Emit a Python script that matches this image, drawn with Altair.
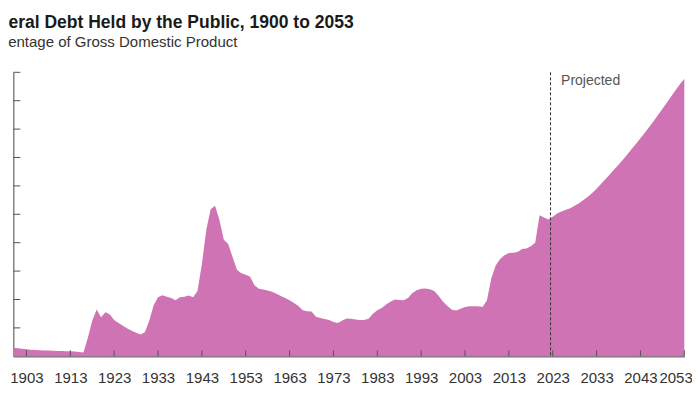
import altair as alt
import pandas as pd

# ---- data (percent of GDP) ----
years = list(range(1900, 2054))
debt = [
    6.1, 5.7, 5.3, 4.9, 4.7, 4.4, 4.3, 4.1, 4.0, 3.9,          # 1900-1909
    3.8, 3.7, 3.5, 3.5, 3.3, 3.0, 2.7, 13.0, 25.0, 33.0,        # 1910-1919
    27.5, 31.0, 29.5, 25.5, 23.5, 21.5, 19.5, 18.0, 16.5, 15.3, # 1920-1929
    17.0, 25.0, 36.0, 41.5, 43.0, 42.0, 41.0, 39.5, 41.5, 42.0, # 1930-1939
    42.8, 41.5, 46.0, 65.0, 89.0, 103.5, 106.0, 96.0, 82.0, 79.0, # 1940-1949
    70.0, 61.0, 58.5, 57.5, 56.0, 50.0, 47.5, 47.0, 46.3, 45.5, # 1950-1959
    44.0, 42.5, 41.0, 39.5, 37.5, 35.5, 32.5, 31.8, 31.5, 27.8, # 1960-1969
    27.0, 26.3, 25.5, 24.2, 23.5, 25.2, 26.7, 26.5, 26.0, 25.5, # 1970-1979
    25.5, 26.5, 30.0, 32.5, 34.0, 36.5, 38.5, 40.0, 39.7, 39.5, # 1980-1989
    41.0, 44.5, 46.5, 47.5, 47.7, 47.3, 46.0, 42.5, 38.5, 35.5, # 1990-1999
    32.8, 32.3, 33.5, 34.8, 35.3, 35.3, 35.2, 34.8, 39.5, 55.0, # 2000-2009
    64.0, 68.5, 71.2, 72.8, 73.0, 73.5, 75.5, 75.9, 77.5, 80.0, # 2010-2019
    99.4, 97.8, 96.4, 98.2, 100.5, 102.0, 103.2, 104.3, 106.0, 107.7, # 2020-2029
    110.0, 112.3, 115.0, 118.0, 121.3, 124.6, 128.0, 131.5, 134.9, 138.5, # 2030-2039
    142.2, 146.0, 149.7, 153.5, 157.4, 161.5, 165.6, 169.9, 174.2, 178.6, # 2040-2049
    183.0, 187.3, 191.5, 195.5,                                  # 2050-2053
]
tick_years = list(range(1903, 2054, 10))
y_ticks = list(range(20, 201, 20))
projection_start = [2022.5]
title_text = ["Federal Debt Held by the Public, 1900 to 2053"]
subtitle_text = ["Percentage of Gross Domestic Product"]
projected_label = ["Projected"]

df = pd.DataFrame({"year": years, "debt": debt})
xt = pd.DataFrame({"year": tick_years})
yt = pd.DataFrame({"v": y_ticks})
proj = pd.DataFrame({"year": projection_start, "label": projected_label})
ttl = pd.DataFrame({"t": title_text})
sub = pd.DataFrame({"t": subtitle_text})

W, H = 671, 284
FONT = "Liberation Sans, Arial, sans-serif"

xscale = alt.Scale(domain=[1900, 2053], nice=False, zero=False)
yscale = alt.Scale(domain=[0, 200], nice=False)

area = alt.Chart(df).mark_area(color="#CF73B4", opacity=1).encode(
    x=alt.X("year:Q", scale=xscale,
            axis=alt.Axis(values=tick_years, format="d", title=None, grid=False,
                          ticks=False, domainColor="#777777", domainWidth=1.5,
                          labelFont=FONT, labelFontSize=15, labelColor="#333333",
                          labelPadding=14, labelFlush=True, labelFlushOffset=8,
                          labelOverlap=False)),
    y=alt.Y("debt:Q", scale=yscale,
            axis=alt.Axis(title=None, grid=False, ticks=False, labels=False,
                          domainColor="#666666", domainWidth=1.2)),
)

xticks = alt.Chart(xt).mark_rule(color="#555555", strokeWidth=1).encode(
    x=alt.X("year:Q", scale=xscale),
    y=alt.value(H), y2=alt.value(H - 6),
)

yticks = alt.Chart(yt).mark_rule(color="#555555", strokeWidth=1).encode(
    y=alt.Y("v:Q", scale=yscale),
    x=alt.value(0), x2=alt.value(7),
)

vline = alt.Chart(proj).mark_rule(color="#333333", strokeWidth=1, strokeDash=[3, 2]).encode(
    x=alt.X("year:Q", scale=xscale),
    y=alt.value(0), y2=alt.value(H),
)

ptext = alt.Chart(proj).mark_text(align="left", baseline="alphabetic", dx=10.5,
                                  font=FONT, fontSize=14, color="#555555").encode(
    x=alt.X("year:Q", scale=xscale),
    y=alt.value(13),
    text="label:N",
)

title = alt.Chart(ttl).mark_text(align="left", baseline="alphabetic", font=FONT,
                                 fontSize=17.5, fontWeight="bold", color="#1a1a1a").encode(
    x=alt.value(-36), y=alt.value(-44), text="t:N")

subtitle = alt.Chart(sub).mark_text(align="left", baseline="alphabetic", font=FONT,
                                    fontSize=15, color="#333333").encode(
    x=alt.value(-36), y=alt.value(-25.6), text="t:N")

chart = alt.layer(area, xticks, yticks, vline, ptext, title, subtitle).properties(
    width=W, height=H,
    autosize=alt.AutoSizeParams(type="none"),
    padding={"left": 5.3, "top": 64.3, "right": 7.7, "bottom": 29.7},
).configure(background="white").configure_view(stroke=None, strokeWidth=0)

chart.save("out.html", embed_options={"renderer": "svg", "actions": False})
